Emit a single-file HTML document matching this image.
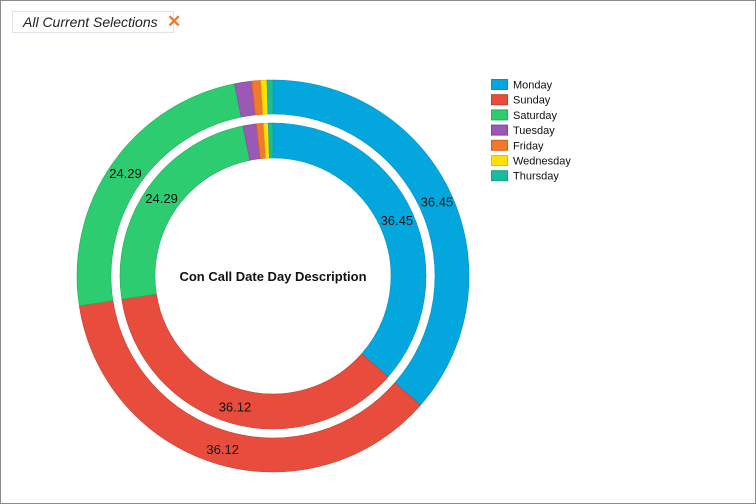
<!DOCTYPE html>
<html><head><meta charset="utf-8">
<style>
html,body{margin:0;padding:0;background:#fff;}
#wrap{position:relative;width:754px;height:502px;border:1px solid #8a8a8a;overflow:hidden;font-family:"Liberation Sans",Arial,sans-serif;}
#sel{position:absolute;left:11px;top:10px;width:150px;height:20px;border:1px solid #dde3ea;background:#fff;font-style:italic;font-size:14px;color:#222;line-height:20px;padding-left:10px;}
#close{position:absolute;left:166px;top:11px;font-size:17px;color:#f07a2a;font-weight:bold;line-height:20px;}
svg{position:absolute;left:0;top:0;}
</style></head><body>
<div id="wrap">
<div id="sel">All Current Selections</div>
<div id="close">✕</div>
<svg id="chart" width="756" height="504"></svg>
</div>
<script>
const categories=["Monday","Sunday","Saturday","Tuesday","Friday","Wednesday","Thursday"];
const outerValues=[36.45,36.12,24.29,1.4,0.75,0.5,0.49];
const innerValues=[36.45,36.12,24.29,1.4,0.75,0.5,0.49];
const colors=["#04a7dd","#e84c3d","#2ecc71","#9b59b6","#f07a2a","#ffe000","#1abc9c"];
const strokes=["#0590bf","#c53f32","#27ad60","#8246a0","#d0601c","#e0c000","#16a085"];
const NS="http://www.w3.org/2000/svg";
const svg=document.getElementById('chart');
const cx=272,cy=275;
function pt(r,a){return [cx+r*Math.sin(a),cy-r*Math.cos(a)];}
function ring(vals,r0,r1,lr,prefix){
  const tot=vals.reduce((s,v)=>s+v,0);
  let acc=0;
  vals.forEach((v,i)=>{
    const a0=acc/tot*2*Math.PI; acc+=v; const a1=acc/tot*2*Math.PI;
    const lg=(a1-a0)>Math.PI?1:0;
    const p1=pt(r1,a0),p2=pt(r1,a1),p3=pt(r0,a1),p4=pt(r0,a0);
    const p=document.createElementNS(NS,'path');
    p.setAttribute('d',`M${p1[0]},${p1[1]}A${r1},${r1} 0 ${lg} 1 ${p2[0]},${p2[1]}L${p3[0]},${p3[1]}A${r0},${r0} 0 ${lg} 0 ${p4[0]},${p4[1]}Z`);
    p.setAttribute('fill',colors[i]);p.setAttribute('stroke',strokes[i]);p.setAttribute('stroke-width','0.6');
    
    
    svg.appendChild(p);
    if(v/tot>0.05){
      const m=pt(lr,(a0+a1)/2);
      const t=document.createElementNS(NS,'text');
      t.setAttribute('x',m[0]);t.setAttribute('y',m[1]+5);
      t.setAttribute('text-anchor','middle');t.setAttribute('font-size','13');
      t.setAttribute('font-family','Liberation Sans, Arial, sans-serif');t.setAttribute('fill','#111');
      t.textContent=v.toFixed(2);
      
      
      svg.appendChild(t);
    }
  });
}
ring(outerValues,162,196,180,'outer');
ring(innerValues,118,153,136,'inner');
const title=document.createElementNS(NS,'text');
title.setAttribute('x',cx);title.setAttribute('y',cy+5);title.setAttribute('text-anchor','middle');
title.setAttribute('font-size','13');title.setAttribute('font-weight','bold');
title.setAttribute('font-family','Liberation Sans, Arial, sans-serif');title.setAttribute('fill','#111');
title.textContent='Con Call Date Day Description';


svg.appendChild(title);
categories.forEach((c,i)=>{
  const g=document.createElementNS(NS,'g');
  
  
  const r=document.createElementNS(NS,'rect');
  r.setAttribute('x',490.5);r.setAttribute('y',78.5+i*15.2);r.setAttribute('width',16);r.setAttribute('height',10);
  r.setAttribute('fill',colors[i]);r.setAttribute('stroke',strokes[i]);
  g.appendChild(r);
  const t=document.createElementNS(NS,'text');
  t.setAttribute('x',512);t.setAttribute('y',87.5+i*15.2);t.setAttribute('font-size','11');
  t.setAttribute('font-family','Liberation Sans, Arial, sans-serif');t.setAttribute('fill','#111');
  t.textContent=c;
  g.appendChild(t);
  svg.appendChild(g);
});
</script>
</body></html>
